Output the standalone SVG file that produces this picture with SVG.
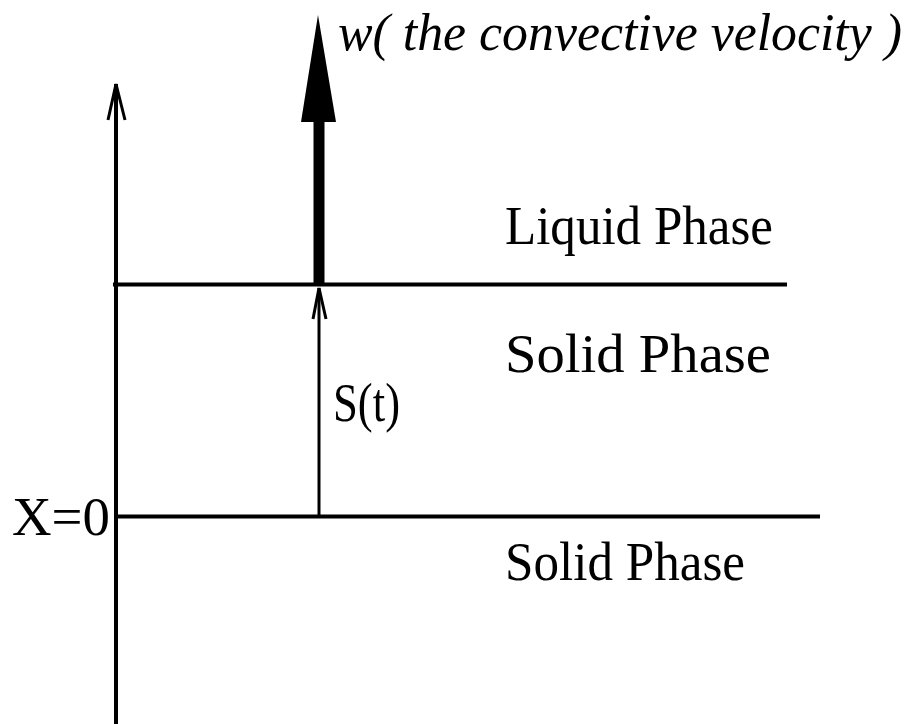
<svg xmlns="http://www.w3.org/2000/svg" width="917" height="724" viewBox="0 0 917 724">
<style>
.ln{stroke:#000;fill:none;stroke-width:4}
.thin{stroke:#000;fill:none;stroke-width:3}
.lbl{font-family:"Liberation Serif",serif;font-size:54px;fill:#000}
.it{font-family:"Liberation Serif",serif;font-style:italic;font-size:52px;fill:#000}
</style>
<rect width="917" height="724" fill="#fff"/>
<g id="connectors">
<line class="ln" x1="116" y1="84" x2="116" y2="724"/>
<polyline class="thin" points="108,120 116,84 125,120"/>
<line class="ln" x1="113" y1="284.5" x2="787" y2="284.5"/>
<line class="ln" x1="116" y1="516.5" x2="820" y2="516.5"/>
<line class="thin" x1="319" y1="288" x2="319" y2="517"/>
<polyline class="thin" points="313,319 319,288 326,319"/>
<line x1="319" y1="118" x2="319" y2="284" stroke="#000" stroke-width="11"/>
<polygon points="318,15 336,122 301,122" fill="#000"/>
</g>
<g id="w-label"><text class="it" x="338" y="50" textLength="564" lengthAdjust="spacingAndGlyphs">w( the convective velocity )</text></g>
<g id="liquid"><text class="lbl" x="505" y="244" textLength="268" lengthAdjust="spacingAndGlyphs">Liquid Phase</text></g>
<g id="solid1"><text class="lbl" x="505" y="372" textLength="266" lengthAdjust="spacingAndGlyphs">Solid Phase</text></g>
<g id="st"><text class="lbl" x="333" y="421" textLength="67" lengthAdjust="spacingAndGlyphs">S(t)</text></g>
<g id="x0"><text class="lbl" x="12" y="535" textLength="98" lengthAdjust="spacingAndGlyphs">X=0</text></g>
<g id="solid2"><text class="lbl" x="505" y="580" textLength="240" lengthAdjust="spacingAndGlyphs">Solid Phase</text></g>
</svg>
